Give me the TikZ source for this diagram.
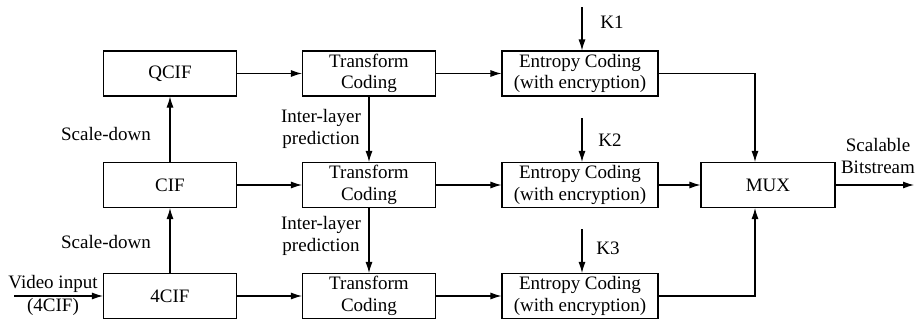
\documentclass[tikz,border=0pt]{standalone}
\usepackage{fontspec}
\setmainfont{Liberation Serif}
\usetikzlibrary{arrows.meta}
\begin{document}
\begin{tikzpicture}
[x=1pt, y=-1pt,
blocknode/.style={rectangle, draw=black, line width=1.1pt, minimum width=133pt, minimum height=45pt, inner sep=0pt, align=center, font=\fontsize{19}{21.5}\selectfont},
textnode/.style={inner sep=0pt, align=center, font=\fontsize{19}{21.5}\selectfont},
connect/.style={-{Latex[length=11pt,width=7pt]}, line width=1.1pt}]
\useasboundingbox (0,0) rectangle (918,322);

% resolution layers
\node[blocknode] (qcif) at (170, 73.5) {QCIF};
\node[blocknode] (cif) at (170, 185) {CIF};
\node[blocknode] (fourcif) at (170, 296) {4CIF};

% transform coding
\node[blocknode] (transform1) at (369, 73.5) {Transform\\Coding};
\node[blocknode] (transform2) at (369, 185) {Transform\\Coding};
\node[blocknode] (transform3) at (369, 296) {Transform\\Coding};

% entropy coding
\node[blocknode, minimum width=156pt] (entropy1) at (580, 73.5) {Entropy Coding\\(with encryption)};
\node[blocknode, minimum width=156pt] (entropy2) at (580, 185) {Entropy Coding\\(with encryption)};
\node[blocknode, minimum width=156pt] (entropy3) at (580, 296) {Entropy Coding\\(with encryption)};

\node[blocknode, minimum width=134pt] (mux) at (768, 185) {MUX};

% free ends
\coordinate (videoin) at (14, 296);
\coordinate (bitout) at (914, 185);
\coordinate (key1) at (582, 7);
\coordinate (key2) at (582, 118);
\coordinate (key3) at (582, 229);

% labels
\node[textnode] (videolabel) at (53, 284) {Video input};
\node[textnode] (cifinlabel) at (53, 307) {(4CIF)};
\node[textnode] (scale1) at (106, 134) {Scale-down};
\node[textnode] (scale2) at (106, 242) {Scale-down};
\node[textnode] (pred1) at (321, 129) {Inter-layer\\prediction};
\node[textnode] (pred2) at (321, 236) {Inter-layer\\prediction};
\node[textnode] (k1label) at (612, 22) {K1};
\node[textnode] (k2label) at (610, 140) {K2};
\node[textnode] (k3label) at (608, 248) {K3};
\node[textnode] (outlabel) at (878, 156) {Scalable\\Bitstream};

\draw[connect] (videoin) -- (fourcif.west);
\draw[connect] (fourcif.north) -- (cif.south);
\draw[connect] (cif.north) -- (qcif.south);
\draw[connect] (qcif.east) -- (transform1.west);
\draw[connect] (cif.east) -- (transform2.west);
\draw[connect] (fourcif.east) -- (transform3.west);
\draw[connect] (transform1.south) -- (transform2.north);
\draw[connect] (transform2.south) -- (transform3.north);
\draw[connect] (transform1.east) -- (entropy1.west);
\draw[connect] (transform2.east) -- (entropy2.west);
\draw[connect] (transform3.east) -- (entropy3.west);
\draw[connect] (key1) -- (key1 |- entropy1.north);
\draw[connect] (key2) -- (key2 |- entropy2.north);
\draw[connect] (key3) -- (key3 |- entropy3.north);
\draw[connect] (entropy1.east) -| ([xshift=-13pt]mux.north);
\draw[connect] (entropy2.east) -- (mux.west);
\draw[connect] (entropy3.east) -| ([xshift=-13pt]mux.south);
\draw[connect] (mux.east) -- (bitout);

\end{tikzpicture}
\end{document}
